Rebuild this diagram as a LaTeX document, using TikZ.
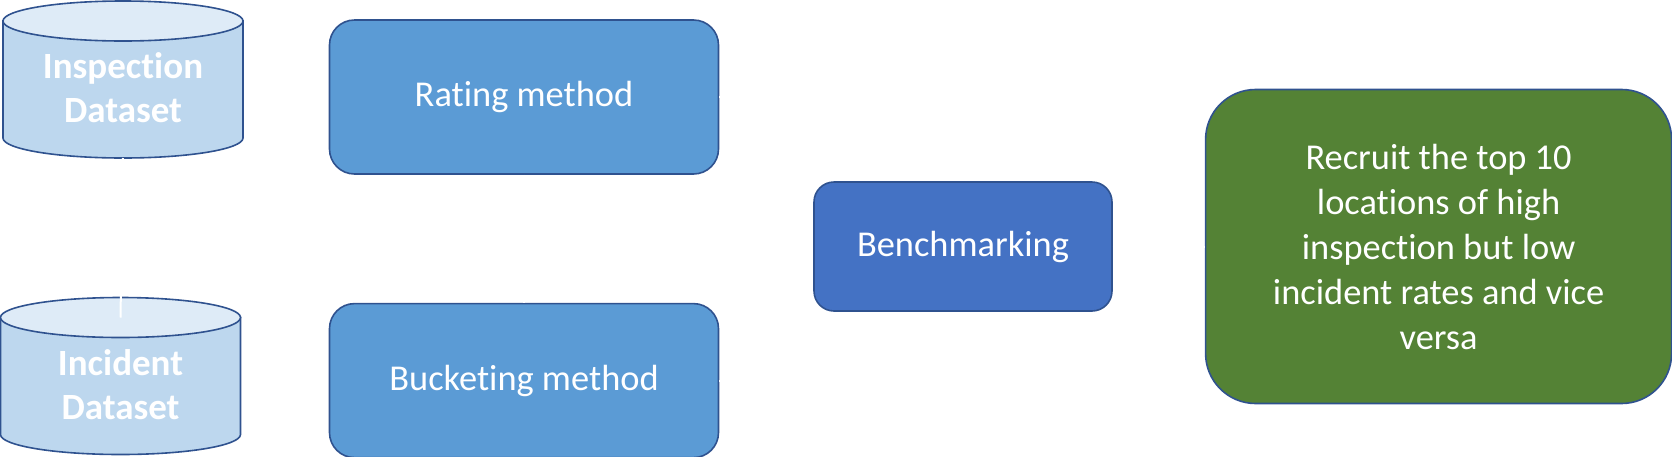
\documentclass[tikz,border=0pt]{standalone}
\usepackage{fontspec}
\setmainfont{Carlito}[Ligatures=CommonOff]
\usetikzlibrary{positioning, backgrounds}

\definecolor{edgeblue}{HTML}{2F528F}
\definecolor{dbbody}{HTML}{BDD7EE}
\definecolor{dbtop}{HTML}{DEEBF7}
\definecolor{methodblue}{HTML}{5B9BD5}
\definecolor{benchblue}{HTML}{4472C4}
\definecolor{resultgreen}{HTML}{548235}

\begin{document}
\begin{tikzpicture}[
    x=1pt, y=1pt,
    dbnode/.style={rectangle, minimum width=120pt, minimum height=78.5pt, inner sep=1pt, outer sep=0pt,
        align=center, text=white, font=\fontsize{18.5}{22}\selectfont\bfseries},
    dbline/.style={draw=edgeblue, line width=0.8pt},
    methodbox/.style={rectangle, rounded corners=12.5pt, draw=edgeblue, line width=0.8pt, fill=methodblue,
        minimum width=194.5pt, minimum height=77pt, text=white, font=\fontsize{18.2}{22.5}\selectfont},
    benchbox/.style={methodbox, fill=benchblue, rounded corners=10pt, minimum width=149pt, minimum height=64.5pt},
    resultbox/.style={methodbox, fill=resultgreen, rounded corners=25pt, minimum width=233pt,
        minimum height=157pt, align=center},
    wirelink/.style={draw=white, line width=1pt}
]
\useasboundingbox (0,0) rectangle (836,-228);

% Datasets
\node[dbnode] (insp) at (61.5,-39.75) {\mbox{}\\[-0.5pt]Inspection\\Dataset};
\node[dbnode] (inc) at (60.25,-188) {\mbox{}\\[-0.5pt]Incident\\Dataset};

% Cylinder bodies behind the dataset texts
\begin{scope}[on background layer]
\foreach \db in {insp,inc}{
  \filldraw[dbline, fill=dbbody] ([yshift=-10pt]\db.north west) -- ([yshift=10pt]\db.south west)
      arc[start angle=180, end angle=360, x radius=60pt, y radius=10pt]
      -- ([yshift=-10pt]\db.north east) -- cycle;
  \filldraw[dbline, fill=dbtop] ([yshift=-10pt]\db.north) ellipse[x radius=60pt, y radius=10pt];
}
\end{scope}

% Methods
\node[methodbox] (rating) at (262,-48.5) {Rating method};
\node[methodbox, below=64pt of rating] (bucket) {Bucketing method};

% Benchmark and result
\node[benchbox] (bench) at (481.5,-123.25) {Benchmarking};
\node[resultbox, right=46pt of bench] (result) {Recruit the top 10\\locations of high\\inspection but low\\incident rates and vice\\versa};

% Links
\coordinate (inctop) at ([yshift=-10pt]inc.north);
\draw[wirelink] (insp.south) -- (inctop);
\draw[wirelink] (rating.south) -- (bucket.north);
\draw[wirelink] (rating.east) -| (bench.north);
\draw[wirelink] (bucket.east) -| (bench.south);
\draw[wirelink] (bench.east) -- (result.west);

\end{tikzpicture}
\end{document}
